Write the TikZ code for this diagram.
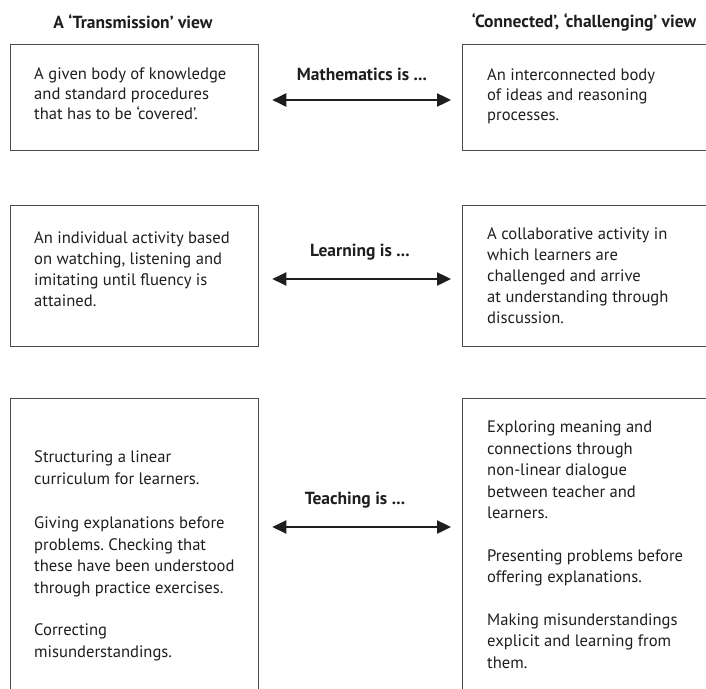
\documentclass[tikz,border=0pt]{standalone}
\usepackage{fontspec}
\setmainfont{PT Sans}
\usetikzlibrary{arrows.meta}
\definecolor{boxgray}{HTML}{4A4A4A}
\definecolor{inkblack}{HTML}{1E1E1E}
\tikzset{
  viewbox/.style={draw=boxgray, line width=1.3pt, rectangle, anchor=north west, inner sep=0pt},
  viewtxt/.style={anchor=west, inner sep=0pt, align=left, text=inkblack, font=\fontsize{16.6}{21}\selectfont},
  headlbl/.style={text=inkblack, font=\bfseries\fontsize{17.5}{20}\selectfont},
  islbl/.style={text=inkblack, font=\bfseries\fontsize{17.5}{20}\selectfont},
  twoway/.style={{Triangle[length=14pt,width=13pt]}-{Triangle[length=14pt,width=13pt]}, line width=2.4pt, draw=inkblack, shorten <=13pt, shorten >=11pt}
}

\begin{document}
\begin{tikzpicture}[x=1pt,y=-1pt]
\clip (0,0) rectangle (706,688);
\node[headlbl] (transhead) at (133,22) {A ‘Transmission’ view};
\node[headlbl] (connhead) at (584,22) {‘Connected’, ‘challenging’ view};

\node[viewbox, minimum width=248pt, minimum height=106pt] (mathL) at (10,44) {};
\node[viewbox, minimum width=252pt, minimum height=106pt] (mathR) at (462,44) {};
\node[viewtxt, font=\fontsize{16.6}{20}\selectfont, xshift=24pt, yshift=4pt] (mathLtxt) at (mathL.west) {A given body of knowledge\\and standard procedures\\that has to be ‘covered’.};
\node[viewtxt, font=\fontsize{16.6}{20}\selectfont, xshift=25pt, yshift=1pt] (mathRtxt) at (mathR.west) {An interconnected body\\of ideas and reasoning\\processes.};
\node[islbl] (mathlbl) at (362,74) {Mathematics is ...};
\coordinate (marrow) at (0,100);
\draw[twoway] (mathL.east |- marrow) -- (mathR.west |- marrow);

\node[viewbox, minimum width=248pt, minimum height=141pt] (learnL) at (10,205) {};
\node[viewbox, minimum width=252pt, minimum height=141pt] (learnR) at (462,205) {};
\node[viewtxt, xshift=24pt, yshift=7pt] (learnLtxt) at (learnL.west) {An individual activity based\\on watching, listening and\\imitating until fluency is\\attained.};
\node[viewtxt, xshift=25pt] (learnRtxt) at (learnR.west) {A collaborative activity in\\which learners are\\challenged and arrive\\at understanding through\\discussion.};
\node[islbl] (learnlbl) at (360,252) {Learning is ...};
\coordinate (larrow) at (0,279);
\draw[twoway] (learnL.east |- larrow) -- (learnR.west |- larrow);

\node[viewbox, minimum width=248pt, minimum height=310pt] (teachL) at (10,398) {};
\node[viewbox, minimum width=252pt, minimum height=310pt] (teachR) at (462,398) {};
\node[viewtxt, font=\fontsize{16.6}{21.5}\selectfont, xshift=24pt, yshift=-2pt] (teachLtxt) at (teachL.west) {Structuring a linear\\curriculum for learners.\\[23pt]Giving explanations before\\problems.\ Checking that\\these have been understood\\through practice exercises.\\[21pt]Correcting\\misunderstandings.};
\node[viewtxt, font=\fontsize{16.6}{21.5}\selectfont, xshift=25pt, yshift=9pt] (teachRtxt) at (teachR.west) {Exploring meaning and\\connections through\\non-linear dialogue\\between teacher and\\learners.\\[21pt]Presenting problems before\\offering explanations.\\[21pt]Making misunderstandings\\explicit and learning from\\them.};
\node[islbl] (teachlbl) at (355,500) {Teaching is ...};
\coordinate (tarrow) at (0,527);
\draw[twoway] (teachL.east |- tarrow) -- (teachR.west |- tarrow);
\end{tikzpicture}
\end{document}
